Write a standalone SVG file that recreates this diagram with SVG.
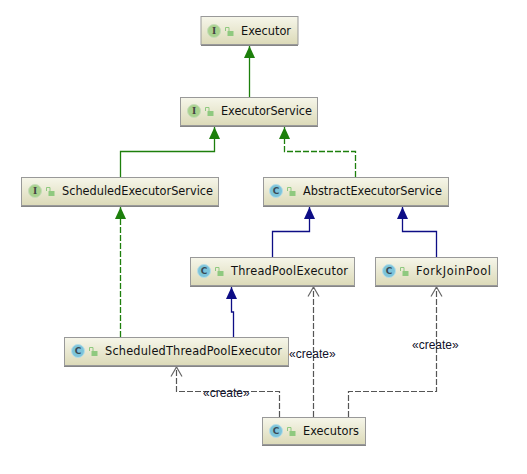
<svg xmlns="http://www.w3.org/2000/svg" width="527" height="474" viewBox="0 0 527 474">
<style>
.box{fill:url(#g);stroke:#999;stroke-width:1}
.shade{fill:#858585}
.t{font-family:"DejaVu Sans",sans-serif;font-stretch:condensed;font-size:12.6px;fill:#111}
.l{font-family:"Liberation Sans",Arial,sans-serif;font-size:12px;fill:#10102a}
.ic{font-family:"DejaVu Serif",serif;font-size:9px;font-weight:bold;fill:#444;text-anchor:middle}
.cc{font-family:"DejaVu Sans",sans-serif;font-size:9px;font-weight:bold;fill:#3a4a55;text-anchor:middle}
.ci{fill:#a9d18e;stroke:#c5dcb8;stroke-width:1}
.cl{fill:#7cc4da;stroke:#b5dde8;stroke-width:1}
.lk{fill:#8fc97f}
.lks{fill:none;stroke:#8fc97f;stroke-width:1}
.c{fill:none;stroke-width:1.3}
.gr{stroke:#1d7f0c}
.nv{stroke:#0d0d85}
.gy{stroke:#555;stroke-width:1.2;stroke-dasharray:6 2}
.gd{stroke-dasharray:6 2}
</style>
<defs>
<linearGradient id="g" x1="0" y1="0" x2="0" y2="1"><stop offset="0" stop-color="#f6f6ea"/><stop offset="1" stop-color="#dcdab8"/></linearGradient>
<marker id="ag" markerUnits="userSpaceOnUse" markerWidth="12" markerHeight="12" refX="12" refY="6" orient="auto"><path d="M0 0.500L12 6L0 11.500Z" fill="#1d7f0c"/></marker>
<marker id="an" markerUnits="userSpaceOnUse" markerWidth="12" markerHeight="12" refX="12" refY="6" orient="auto"><path d="M0 0.500L12 6L0 11.500Z" fill="#0d0d85"/></marker>
<marker id="ao" markerUnits="userSpaceOnUse" markerWidth="12" markerHeight="14" refX="10.5" refY="7" orient="auto"><path d="M1 1.500L10.500 7L1 12.500" fill="none" stroke="#666" stroke-width="1.2"/></marker>
<g id="lock"><path class="lks" d="M-3.500 -1V-4.500H0V-1"/><rect class="lk" x="-1.500" y="-1" width="6" height="5"/></g>
</defs>
<g id="connectors">
<path class="c gr" marker-end="url(#ag)" d="M249.500 97V46"/>
<path class="c gr" marker-end="url(#ag)" d="M120.500 177V151.500H214.500V127"/>
<path class="c gr gd" marker-end="url(#ag)" d="M355.500 177V151.500H284.500V127"/>
<path class="c gr gd" marker-end="url(#ag)" d="M120.500 337V207"/>
<path class="c nv" marker-end="url(#an)" d="M272.500 257V231.500H309.500V207"/>
<path class="c nv" marker-end="url(#an)" d="M436.500 257V231.500H402.500V207"/>
<path class="c nv" marker-end="url(#an)" d="M233.500 337V312H231.500V287"/>
<path class="c gy" marker-end="url(#ao)" d="M279.500 417V391.500H176.500V367"/>
<path class="c gy" marker-end="url(#ao)" d="M313.500 417V287"/>
<path class="c gy" marker-end="url(#ao)" d="M348.500 417V391.500H436.500V287"/>
<text class="l" x="289" y="358">«create»</text>
<text class="l" x="203" y="397">«create»</text>
<text class="l" x="412" y="349">«create»</text>
</g>
<g id="executor"><rect class="shade" x="201" y="43" width="97" height="3"/><rect class="box" x="201" y="16.500" width="97" height="28"/><circle class="ci" cx="214" cy="31" r="6.500"/><text class="ic" x="214" y="34">I</text><use href="#lock" x="229" y="32"/><text class="t" x="241" y="35" textLength="50">Executor</text></g>
<g id="executorservice"><rect class="shade" x="180" y="124" width="138" height="3"/><rect class="box" x="180.500" y="97.500" width="137" height="28"/><circle class="ci" cx="194" cy="111" r="6.500"/><text class="ic" x="194" y="114">I</text><use href="#lock" x="209" y="112"/><text class="t" x="221" y="115" textLength="91">ExecutorService</text></g>
<g id="scheduledexecutorservice"><rect class="shade" x="21" y="204" width="198" height="3"/><rect class="box" x="21.500" y="177.500" width="197" height="28"/><circle class="ci" cx="35" cy="191" r="6.500"/><text class="ic" x="35" y="194">I</text><use href="#lock" x="50" y="192"/><text class="t" x="62" y="195" textLength="151">ScheduledExecutorService</text></g>
<g id="abstractexecutorservice"><rect class="shade" x="263" y="204" width="186" height="3"/><rect class="box" x="263.500" y="177.500" width="185" height="28"/><circle class="cl" cx="276" cy="191" r="6.500"/><text class="cc" x="276" y="194">C</text><use href="#lock" x="291" y="192"/><text class="t" x="303" y="195" textLength="139">AbstractExecutorService</text></g>
<g id="threadpoolexecutor"><rect class="shade" x="190" y="284" width="165" height="3"/><rect class="box" x="190.500" y="257.500" width="164" height="28"/><circle class="cl" cx="204" cy="271" r="6.500"/><text class="cc" x="204" y="274">C</text><use href="#lock" x="219" y="272"/><text class="t" x="231" y="275" textLength="117">ThreadPoolExecutor</text></g>
<g id="forkjoinpool"><rect class="shade" x="375" y="284" width="123" height="3"/><rect class="box" x="375.500" y="257.500" width="122" height="28"/><circle class="cl" cx="389" cy="271" r="6.500"/><text class="cc" x="389" y="274">C</text><use href="#lock" x="404" y="272"/><text class="t" x="416" y="275" textLength="75">ForkJoinPool</text></g>
<g id="scheduledthreadpoolexecutor"><rect class="shade" x="64" y="364" width="225" height="3"/><rect class="box" x="64.500" y="337.500" width="224" height="28"/><circle class="cl" cx="78" cy="351" r="6.500"/><text class="cc" x="78" y="354">C</text><use href="#lock" x="93" y="352"/><text class="t" x="105" y="355" textLength="177">ScheduledThreadPoolExecutor</text></g>
<g id="executors"><rect class="shade" x="262" y="443" width="104" height="3"/><rect class="box" x="262.500" y="417.500" width="103" height="27"/><circle class="cl" cx="276" cy="431" r="6.500"/><text class="cc" x="276" y="434">C</text><use href="#lock" x="291" y="432"/><text class="t" x="303" y="435" textLength="56">Executors</text></g>
</svg>
